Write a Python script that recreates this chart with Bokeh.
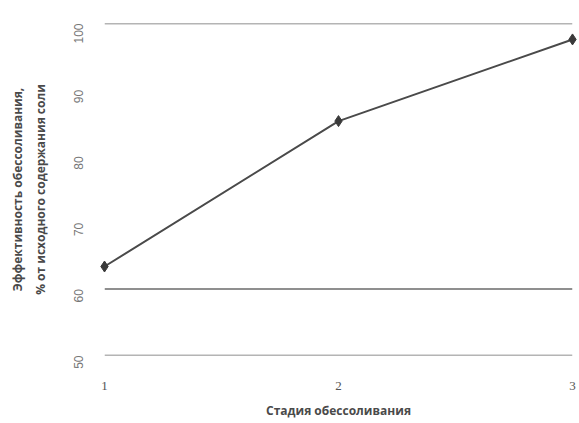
from bokeh.plotting import figure
from bokeh.models import Range1d, FixedTicker, Span
from bokeh.embed import file_html
from bokeh.resources import INLINE
import math

# Data
stages = [1, 2, 3]
efficiency = [63.4, 85.3, 97.6]
x_ticks = [1, 2, 3]
y_ticks = [50, 60, 70, 80, 90, 100]
grid_ticks = [50, 60, 100]  # grid lines visible in the reference
x_title = "Стадия обессоливания"
y_title = "Эффективность обессоливания,\n% от исходного содержания соли"

p = figure(width=579, height=423, output_backend="svg", toolbar_location=None,
           x_range=Range1d(1, 3), y_range=Range1d(50, 100),
           min_border_left=104, min_border_right=7, min_border_top=23, min_border_bottom=68)
p.outline_line_color = None
p.background_fill_color = "white"
p.border_fill_color = "white"

# Grid lines (only those visible in the reference)
p.xgrid.visible = False
p.ygrid.visible = False
for g in grid_ticks:
    p.add_layout(Span(location=g, dimension="width", line_color="#6a6a6a", line_width=1.5))

p.line(stages, efficiency, line_color="#4a4a4a", line_width=2)
p.scatter(stages, efficiency, marker="diamond", size=11, fill_color="#3a3a3a",
          line_color="#3a3a3a", level="overlay")

# X axis
xa = p.xaxis[0]
xa.ticker = FixedTicker(ticks=x_ticks)
xa.axis_line_color = None
xa.major_tick_line_color = None
xa.minor_tick_line_color = None
xa.major_label_standoff = 20
xa.major_label_text_font = "Liberation Serif"
xa.major_label_text_font_size = "13px"
xa.major_label_text_color = "#555555"
xa.axis_label = x_title
xa.axis_label_standoff = 9
xa.axis_label_text_font = "Open Sans"
xa.axis_label_text_font_style = "bold"
xa.axis_label_text_font_size = "12px"
xa.axis_label_text_color = "#4a4a4a"

# Y axis
ya = p.yaxis[0]
ya.ticker = FixedTicker(ticks=y_ticks)
ya.axis_line_color = None
ya.major_tick_line_color = None
ya.minor_tick_line_color = None
ya.major_label_orientation = math.pi / 2
ya.major_label_standoff = 20
ya.major_label_text_font = "Liberation Sans"
ya.major_label_text_font_size = "12px"
ya.major_label_text_color = "#777777"
ya.axis_label = y_title
ya.axis_label_standoff = 18
ya.axis_label_text_font = "Open Sans"
ya.axis_label_text_font_style = "bold"
ya.axis_label_text_font_size = "12px"
ya.axis_label_text_line_height = 1.35
ya.axis_label_text_color = "#4a4a4a"

open("out.html", "w").write(file_html(p, INLINE))
